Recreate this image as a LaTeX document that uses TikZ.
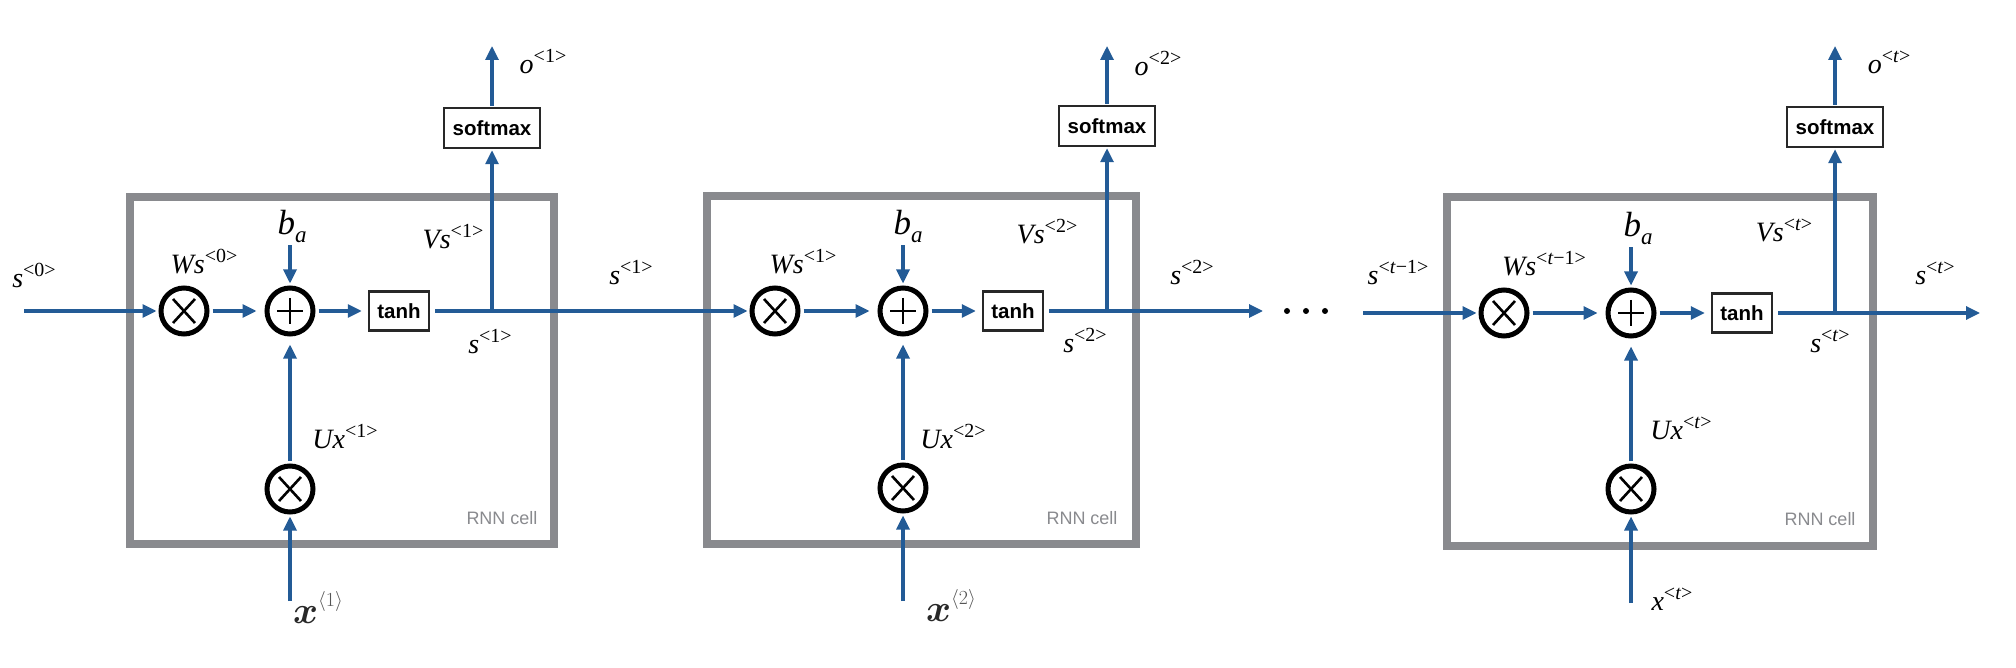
\RequirePackage{fix-cm}
\documentclass[tikz,border=0pt]{standalone}
\usepackage{fontspec}
\setmainfont{Liberation Serif}
\newfontfamily\lsans{Liberation Sans}
\usetikzlibrary{arrows.meta}
\definecolor{flowblue}{RGB}{35,91,150}
\definecolor{cellgray}{RGB}{137,138,142}
\definecolor{boxdark}{RGB}{40,40,40}
\definecolor{supgray}{RGB}{85,85,85}
\newcommand\lbl[2]{{\itshape #1}\raisebox{11pt}{\fontsize{20}{20}\selectfont #2}}
\newcommand\blbl{{\fontsize{35}{35}\selectfont\itshape b}\raisebox{-8pt}{\fontsize{23}{23}\selectfont\itshape a}}
\newcommand\xlbl[1]{{\fontsize{38}{38}\selectfont\boldmath$x$}\raisebox{17pt}{\fontsize{20}{20}\selectfont\color{supgray}$\langle #1\rangle$}}
\begin{document}
\begin{tikzpicture}[x=1pt,y=-1pt,
  lab/.style={inner sep=0pt, font=\fontsize{28}{30}\selectfont},
  mul/.style={circle, draw=black, line width=5pt, minimum size=46pt, inner sep=0pt, fill=white,
    path picture={\draw[line width=2.6pt] (path picture bounding box.center) ++(-11,-12) -- ++(22,24) ++(0,-24) -- ++(-22,24);}},
  add/.style={circle, draw=black, line width=5pt, minimum size=46pt, inner sep=0pt, fill=white,
    path picture={\draw[line width=2.8pt] (path picture bounding box.center) ++(-13,0) -- ++(26,0) ++(-13,-13) -- ++(0,26);}},
  fn/.style={draw=boxdark, line width=2.5pt, fill=white, inner sep=0pt, font=\lsans\bfseries\fontsize{20.5}{22}\selectfont},
  tanhbox/.style={fn, minimum width=60pt, minimum height=39pt},
  smbox/.style={fn, minimum width=96pt, minimum height=40pt},
  cellbox/.style={draw=cellgray, line width=8pt, inner sep=0pt},
  flow/.style={draw=flowblue, line width=3.2pt, -{Triangle[length=14pt,width=13pt]}},
  wire/.style={draw=flowblue, line width=3.2pt},
  rnn/.style={text=cellgray, font=\lsans\fontsize{18}{20}\selectfont, inner sep=0pt},
  dotnode/.style={circle, fill=black, inner sep=0pt, minimum size=6pt}
]
\useasboundingbox (0,0) rectangle (2016,668);

% ---------- cell boxes ----------
\node[cellbox, minimum width=424pt, minimum height=347pt] (cell1) at (342,370.5) {};
\node[cellbox, minimum width=429pt, minimum height=348pt] (cell2) at (921.5,370) {};
\node[cellbox, minimum width=426pt, minimum height=349pt] (cell3) at (1660,371.5) {};

% ---------- cell 1 ----------
\coordinate (in1) at (24,311);
\node[mul] (W1) at (184,311) {};
\node[add] (P1) at (290,311) {};
\node[tanhbox] (T1) at (399,311) {tanh};
\coordinate (J1) at (492,311);
\node[smbox] (S1) at (492,128) {softmax};
\coordinate (top1) at (492,46);
\node[mul] (U1) at (290,489) {};
\coordinate (xin1) at (290,601);
\node[lab] (ba1) at (292,226) {\blbl};
\node[lab] (ls0) at (34,275) {\lbl{s}{<0>}};
\node[lab] (lWs0) at (204,262) {\lbl{Ws}{<0>}};
\node[lab] (lVs1) at (453,237) {\lbl{Vs}{<1>}};
\node[lab] (ls1b) at (490,342) {\lbl{s}{<1>}};
\node[lab] (lo1) at (543,62) {\lbl{o}{<1>}};
\node[lab] (lUx1) at (345,437) {\lbl{Ux}{<1>}};
\node[inner sep=0pt, text=boxdark] (lx1) at (318,607) {\xlbl{1}};
\node[rnn] (rnn1) at (502,518) {RNN cell};
\node[lab] (ls1m) at (631,273) {\lbl{s}{<1>}};

% ---------- cell 2 ----------
\node[mul] (W2) at (775,311) {};
\node[add] (P2) at (903,311) {};
\node[tanhbox] (T2) at (1013,311) {tanh};
\coordinate (J2) at (1107,311);
\node[smbox] (S2) at (1107,126) {softmax};
\coordinate (top2) at (1107,46);
\node[mul] (U2) at (903,488) {};
\coordinate (xin2) at (903,601);
\coordinate (out2) at (1263,311);
\node[lab] (ba2) at (908,226) {\blbl};
\node[lab] (lWs1) at (803,262) {\lbl{Ws}{<1>}};
\node[lab] (lVs2) at (1047,232) {\lbl{Vs}{<2>}};
\node[lab] (ls2b) at (1085,341) {\lbl{s}{<2>}};
\node[lab] (lo2) at (1158,64) {\lbl{o}{<2>}};
\node[lab] (lUx2) at (953,437) {\lbl{Ux}{<2>}};
\node[inner sep=0pt, text=boxdark] (lx2) at (951,605) {\xlbl{2}};
\node[rnn] (rnn2) at (1082,518) {RNN cell};
\node[lab] (ls2r) at (1192,273) {\lbl{s}{<2>}};

% dots
\node[dotnode] (d1) at (1287,311) {};
\node[dotnode] (d2) at (1306,311) {};
\node[dotnode] (d3) at (1325,311) {};

% ---------- cell 3 ----------
\coordinate (in3) at (1363,313);
\node[mul] (W3) at (1504,313) {};
\node[add] (P3) at (1631,313) {};
\node[tanhbox] (T3) at (1742,313) {tanh};
\coordinate (J3) at (1835,313);
\node[smbox] (S3) at (1835,127) {softmax};
\coordinate (top3) at (1835,46);
\node[mul] (U3) at (1631,489) {};
\coordinate (xin3) at (1631,603);
\coordinate (out3) at (1980,313);
\node[lab] (ba3) at (1638,228) {\blbl};
\node[lab] (lst1) at (1398,273) {\lbl{s}{<\textit{t}−1>}};
\node[lab] (lWst1) at (1544,264) {\lbl{Ws}{<\textit{t}−1>}};
\node[lab] (lVst) at (1784,230) {\lbl{Vs}{<\textit{t}>}};
\node[lab] (lstr) at (1935,273) {\lbl{s}{<\textit{t}>}};
\node[lab] (lstb) at (1830,341) {\lbl{s}{<\textit{t}>}};
\node[lab] (lot) at (1889,62) {\lbl{o}{<\textit{t}>}};
\node[lab] (lUxt) at (1681,428) {\lbl{Ux}{<\textit{t}>}};
\node[lab] (lxt) at (1672,599) {\lbl{x}{<\textit{t}>}};
\node[rnn] (rnn3) at (1820,519) {RNN cell};

% ---------- connectors cell 1 ----------
\draw[flow, shorten >=2pt] (in1) -- (W1);
\draw[flow, shorten <=3pt, shorten >=8pt] (W1) -- (P1);
\draw[flow, shorten <=3pt, shorten >=2pt] (ba1.south -| P1) -- (P1);
\draw[flow, shorten <=3pt, shorten >=6pt] (P1) -- (T1);
\draw[wire, shorten <=5pt] (T1) -- (J1);
\draw[flow, shorten >=1pt] (J1) -- (S1);
\draw[flow, shorten <=1pt] (S1) -- (top1);
\draw[flow, shorten <=3pt, shorten >=8pt] (U1) -- (P1);
\draw[flow, shorten >=2pt] (xin1) -- (U1);
\draw[flow, shorten >=2pt] (J1) -- (W2);

% ---------- connectors cell 2 ----------
\draw[flow, shorten <=3pt, shorten >=8pt] (W2) -- (P2);
\draw[flow, shorten <=3pt, shorten >=2pt] (ba2.south -| P2) -- (P2);
\draw[flow, shorten <=3pt, shorten >=6pt] (P2) -- (T2);
\draw[wire, shorten <=5pt] (T2) -- (J2);
\draw[flow, shorten >=1pt] (J2) -- (S2);
\draw[flow, shorten <=1pt] (S2) -- (top2);
\draw[flow, shorten <=3pt, shorten >=8pt] (U2) -- (P2);
\draw[flow, shorten >=2pt] (xin2) -- (U2);
\draw[flow] (J2) -- (out2);

% ---------- connectors cell 3 ----------
\draw[flow, shorten >=2pt] (in3) -- (W3);
\draw[flow, shorten <=3pt, shorten >=8pt] (W3) -- (P3);
\draw[flow, shorten <=3pt, shorten >=2pt] (ba3.south -| P3) -- (P3);
\draw[flow, shorten <=3pt, shorten >=6pt] (P3) -- (T3);
\draw[wire, shorten <=5pt] (T3) -- (J3);
\draw[flow, shorten >=1pt] (J3) -- (S3);
\draw[flow, shorten <=1pt] (S3) -- (top3);
\draw[flow, shorten <=3pt, shorten >=8pt] (U3) -- (P3);
\draw[flow, shorten >=2pt] (xin3) -- (U3);
\draw[flow] (J3) -- (out3);
\end{tikzpicture}
\end{document}
